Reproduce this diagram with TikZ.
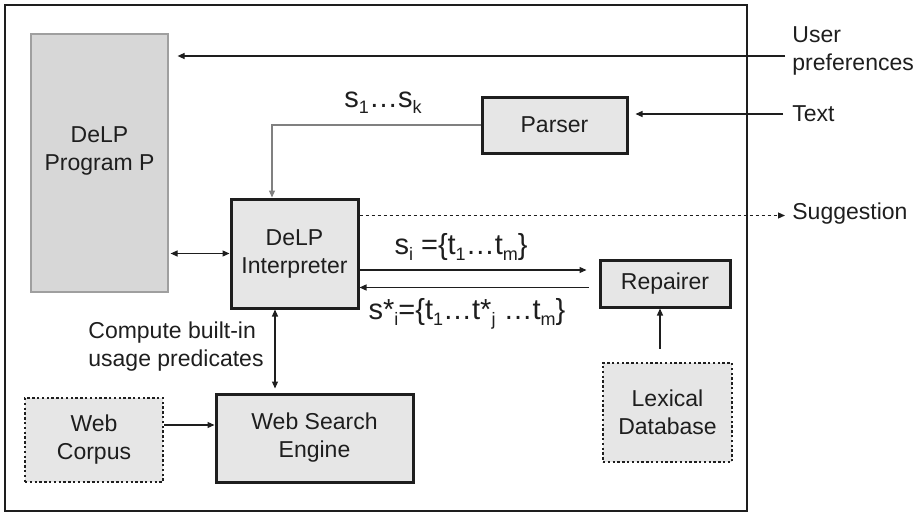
\documentclass[tikz,border=0pt]{standalone}
\usepackage{fontspec}
\setmainfont{Liberation Sans}
\usetikzlibrary{arrows.meta,positioning}

\definecolor{boxfill}{HTML}{E6E6E6}
\definecolor{progfill}{HTML}{D7D7D7}
\definecolor{ink}{HTML}{1E1E1E}

% lowered subscript for the sentence labels
\newcommand{\sbs}[1]{\raisebox{-3pt}{\fontsize{9}{9}\selectfont#1}}

\tikzset{
  block/.style={draw=ink, line width=1.5pt, fill=boxfill, text=ink, align=center, inner sep=0pt},
  source/.style={draw=ink, line width=1.4pt, dash pattern=on 1.2pt off 1.2pt, fill=boxfill, text=ink, align=center, inner sep=0pt},
  lbl/.style={text=ink, align=left, inner sep=0pt},
  sig/.style={text=ink, inner sep=0pt, font=\fontsize{14.5}{17}\selectfont},
  flow/.style={draw=ink, line width=0.6pt, -{Triangle[length=3.5pt,width=3pt]}},
  both/.style={flow, {Triangle[length=3.5pt,width=3pt]}-{Triangle[length=3.5pt,width=3pt]}},
}

\begin{document}
\begin{tikzpicture}[x=0.5pt, y=-0.5pt, font=\fontsize{11.5}{14}\selectfont]
  \useasboundingbox (0,0) rectangle (918,514);
  % frame of the system
  \draw[ink, line width=1.2pt] (5,5) rectangle (747,511);

  % components
  \node[draw=gray!75, line width=0.6pt, fill=progfill, minimum width=68.5pt, minimum height=129pt] (prog) at (99.5,163) {};
  \node[text=ink, align=center] (progtxt) at (99.5,151) {DeLP\\Program P};
  \node[block, minimum width=72.5pt, minimum height=28pt] (parser) at (554.5,125) {Parser};
  \node[block, minimum width=63.5pt, minimum height=54.5pt] (interp) at (294.5,253.5) {DeLP\\Interpreter};
  \node[block, minimum width=65pt, minimum height=23.5pt] (repair) at (665,283.5) {Repairer};
  \node[block, minimum width=98.5pt, minimum height=44pt] (wse) at (314.5,438) {Web Search\\Engine};
  \node[source, minimum width=69pt, minimum height=42pt] (corpus) at (94,440) {Web\\Corpus};
  \node[source, line width=1.1pt, minimum width=64.5pt, minimum height=49.5pt] (lexdb) at (667.5,412.5) {Lexical\\Database};

  % inputs and outputs
  \node[lbl, anchor=west] (user) at (792,51) {User\\preferences};
  \node[lbl, anchor=west] (txtin) at (792,114) {Text};
  \node[lbl, anchor=west] (sugg) at (792,214) {Suggestion};
  \node[lbl, anchor=west] (compute) at (88,347) {Compute built-in\\usage predicates};

  % sentences passed around
  \node[sig] (seq) at (383,103) {s\sbs{1}\ldots s\sbs{k}};
  \node[sig] (si) at (461,247) {s\sbs{i} =\{t\sbs{1}\ldots t\sbs{m}\}};
  \node[sig] (sstar) at (467,314) {s*\sbs{i}=\{t\sbs{1}\ldots t*\sbs{j} \ldots t\sbs{m}\}};

  % connections
  \coordinate (upin) at (785,56);
  \draw[flow, shorten >=4.5pt] (upin) -- (upin -| prog.east);
  \draw[flow, shorten <=4.5pt, shorten >=3.5pt] (txtin.west) -- (txtin.west -| parser.east);
  \draw[flow, draw=gray] (parser.west) -| ([xshift=-11.25pt]interp.north);
  \coordinate (sg) at ([yshift=-9pt]interp.north east);
  \draw[flow, dash pattern=on 1.8pt off 1.2pt, shorten >=3.5pt] (sg) -- (sg -| sugg.west);
  \draw[both, shorten >=1pt] (interp.west) -- (interp.west -| prog.east);
  \coordinate (fw) at ([yshift=-8.25pt]interp.east);
  \draw[flow, shorten >=6pt] (fw) -- (fw -| repair.west);
  \coordinate (bw) at ([yshift=-17pt]interp.east);
  \draw[flow, shorten <=5pt] (bw -| repair.west) -- (bw);
  \coordinate (ws) at ([xshift=-9.75pt]interp.south);
  \draw[both, shorten >=2pt] (ws) -- (ws |- wse.north);
  \coordinate (wc) at ([yshift=7.5pt]corpus.east);
  \draw[flow] (wc) -- (wc -| wse.west);
  \coordinate (lx) at ([xshift=-3.75pt,yshift=6.5pt]lexdb.north);
  \draw[flow] (lx) -- (lx |- repair.south);
\end{tikzpicture}
\end{document}
